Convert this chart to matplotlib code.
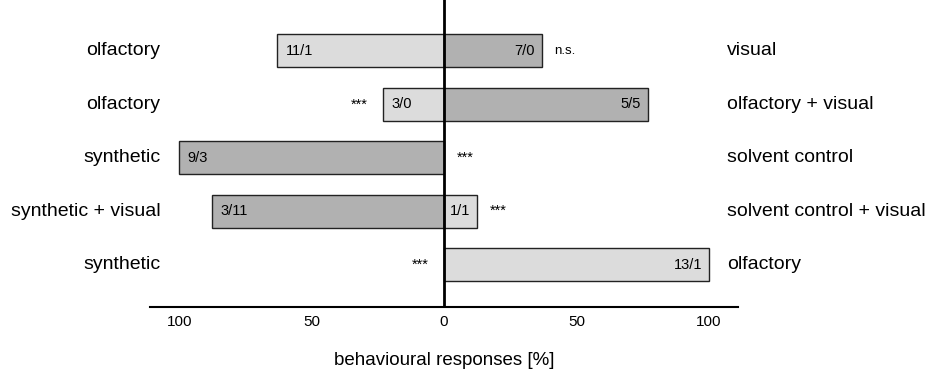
import matplotlib.pyplot as plt

plt.rcParams["font.family"] = ["Liberation Sans", "DejaVu Sans"]

# -------------------------------------------------
# Data
# -------------------------------------------------

left_labels = ["olfactory", "olfactory", "synthetic", "synthetic + visual", "synthetic"]
right_labels = ["visual", "olfactory + visual", "solvent control",
                "solvent control + visual", "olfactory"]

left_values = [63, 23, 100, 87.5, 0]
right_values = [37, 77, 0, 12.5, 100]

left_counts = ["11/1", "3/0", "9/3", "3/11", ""]
right_counts = ["7/0", "5/5", "", "1/1", "13/1"]

# shade of each half: "light" or "dark"
left_shade = ["light", "light", "dark", "dark", "light"]
right_shade = ["dark", "dark", "dark", "light", "light"]

signif = ["n.s.", "***", "***", "***", "***"]
signif_side = ["right", "left", "right", "right", "left"]

tick_pos = [-100, -50, 0, 50, 100]
tick_labels = ["100", "50", "0", "50", "100"]

colors = {"light": "#dcdcdc", "dark": "#b1b1b1"}

# -------------------------------------------------
# Plot
# -------------------------------------------------

fig = plt.figure(figsize=(9.34, 3.73), dpi=100)
ax = fig.add_axes([150 / 934, 66 / 373, 588 / 934, 307 / 373])

rows = list(range(len(left_labels)))
bar_h = 0.62

ax.barh(rows, [-v for v in left_values], height=bar_h,
        color=[colors[s] for s in left_shade], edgecolor="#222222", linewidth=1)
ax.barh(rows, right_values, height=bar_h,
        color=[colors[s] for s in right_shade], edgecolor="#222222", linewidth=1)

# hide the zero-width bars' outlines
for patch in ax.patches:
    if patch.get_width() == 0:
        patch.set_visible(False)

for i in rows:
    if left_counts[i]:
        ax.annotate(left_counts[i], (-left_values[i], i), xytext=(6, 0),
                    textcoords="offset points", ha="left", va="center", fontsize=10.5)
    if right_counts[i]:
        ax.annotate(right_counts[i], (right_values[i], i), xytext=(-5, 0),
                    textcoords="offset points", ha="right", va="center", fontsize=10.5)

    if signif_side[i] == "right":
        ax.annotate(signif[i], (right_values[i], i), xytext=(9, 0),
                    textcoords="offset points", ha="left", va="center",
                    fontsize=9.5 if signif[i] == "n.s." else 10.5)
    else:
        ax.annotate(signif[i], (-left_values[i], i), xytext=(-11, 0),
                    textcoords="offset points", ha="right", va="center", fontsize=10.5)

    ax.text(-107, i, left_labels[i], ha="right", va="center", fontsize=14)
    ax.text(107, i, right_labels[i], ha="left", va="center", fontsize=14)

ax.axvline(0, color="black", linewidth=2)

ax.set_xlim(-111, 111)
ax.set_ylim(4.79, -0.95)

ax.set_xticks(tick_pos)
ax.set_xticklabels(tick_labels, fontsize=11)
ax.tick_params(axis="x", length=0, pad=6)
ax.set_yticks([])

for side in ["top", "left", "right"]:
    ax.spines[side].set_visible(False)
ax.spines["bottom"].set_linewidth(1.5)

ax.set_xlabel("behavioural responses [%]", fontsize=13.5, labelpad=16)

fig.savefig("out.png", dpi=100)
